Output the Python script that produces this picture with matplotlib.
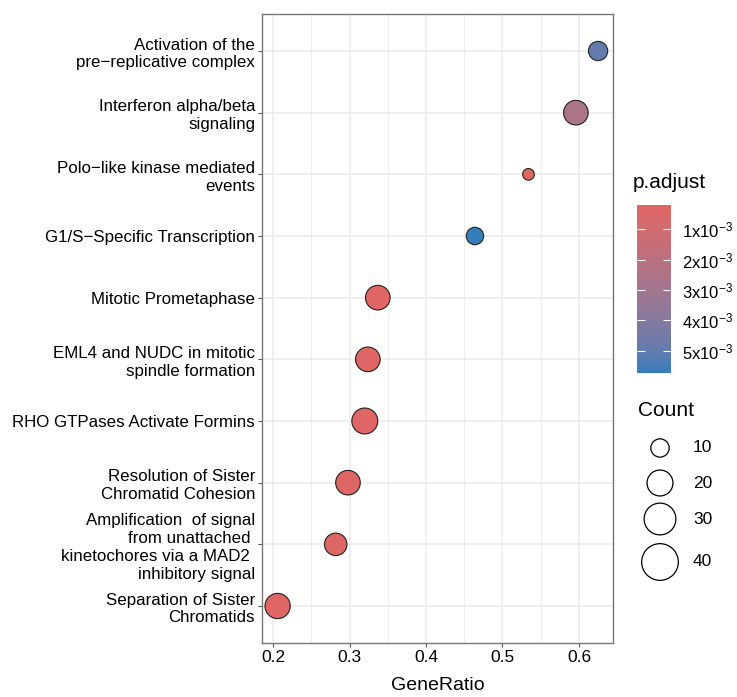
"""
Dot plot of enriched Reactome terms: GeneRatio vs term, coloured by p.adjust,
sized by gene count (clusterProfiler style).
"""
import numpy as np
import matplotlib
matplotlib.use("Agg")
import matplotlib.pyplot as plt
from matplotlib.colors import ListedColormap, Normalize, to_rgb
from matplotlib.cm import ScalarMappable

plt.rcParams["font.family"] = ["Liberation Sans", "DejaVu Sans"]
plt.rcParams["mathtext.fontset"] = "custom"
plt.rcParams["mathtext.rm"] = "Liberation Sans"

# terms from top to bottom
terms = [
    "Activation of the\npre\u2212replicative complex",
    "Interferon alpha/beta\nsignaling",
    "Polo\u2212like kinase mediated\nevents",
    "G1/S\u2212Specific Transcription",
    "Mitotic Prometaphase",
    "EML4 and NUDC in mitotic\nspindle formation",
    "RHO GTPases Activate Formins",
    "Resolution of Sister\nChromatid Cohesion",
    "Amplification  of signal\nfrom unattached \nkinetochores via a MAD2 \ninhibitory signal",
    "Separation of Sister\nChromatids",
]
gene_ratio = [0.625, 0.596, 0.534, 0.464, 0.337, 0.324, 0.320, 0.298, 0.282, 0.206]
p_adjust = [4.9e-3, 2.6e-3, 0.3e-3, 5.7e-3, 0.25e-3, 0.25e-3, 0.25e-3, 0.3e-3, 0.3e-3, 0.25e-3]
counts = [11, 18, 4, 9, 18, 18, 20, 18, 15, 19]

pad_ticks = [1e-3, 2e-3, 3e-3, 4e-3, 5e-3]
pad_labels = [r"$\mathregular{%dx10^{-3}}$" % k for k in range(1, 6)]
pad_range = (0.2e-3, 5.73e-3)
count_keys = [10, 20, 30, 40]

low_col, high_col = "#e06663", "#327eba"


# ---- CIELAB gradient, like scales::seq_gradient_pal ----
def _to_lab(rgb):
    c = np.array(rgb)
    c = np.where(c > 0.04045, ((c + 0.055) / 1.055) ** 2.4, c / 12.92)
    m = np.array([[0.4124, 0.3576, 0.1805],
                  [0.2126, 0.7152, 0.0722],
                  [0.0193, 0.1192, 0.9505]])
    xyz = m @ c / np.array([0.95047, 1.0, 1.08883])
    f = np.where(xyz > 0.008856, np.cbrt(xyz), 7.787 * xyz + 16 / 116)
    return np.array([116 * f[1] - 16, 500 * (f[0] - f[1]), 200 * (f[1] - f[2])])


def _from_lab(lab):
    fy = (lab[0] + 16) / 116
    f = np.array([fy + lab[1] / 500, fy, fy - lab[2] / 200])
    xyz = np.where(f > 0.2069, f ** 3, (f - 16 / 116) / 7.787)
    xyz = xyz * np.array([0.95047, 1.0, 1.08883])
    m = np.array([[3.2406, -1.5372, -0.4986],
                  [-0.9689, 1.8758, 0.0415],
                  [0.0557, -0.2040, 1.0570]])
    c = m @ xyz
    c = np.where(c > 0.0031308, 1.055 * np.clip(c, 0, None) ** (1 / 2.4) - 0.055, 12.92 * c)
    return np.clip(c, 0, 1)


lab_lo, lab_hi = _to_lab(to_rgb(low_col)), _to_lab(to_rgb(high_col))
cmap = ListedColormap([_from_lab(lab_lo + t * (lab_hi - lab_lo)) for t in np.linspace(0, 1, 256)])
norm = Normalize(*pad_range)


def size_of(n):
    # marker area ~ count
    d_px = 5.8 * np.sqrt(n)
    return (d_px * 0.72) ** 2


W, H = 737, 697
fig = plt.figure(figsize=(W / 100, H / 100), dpi=100)

# ---- main panel ----
ax = fig.add_axes([262 / W, 1 - 643 / H, (613 - 262) / W, (643 - 14) / H])
ypos = np.arange(len(terms))[::-1]
ax.scatter(gene_ratio, ypos, s=[size_of(c) for c in counts], c=p_adjust,
           cmap=cmap, norm=norm, edgecolors="#222222", linewidths=0.8, zorder=3)

ax.set_xlim(0.1856, 0.6445)
ax.set_ylim(-0.6, len(terms) - 0.4)
ax.set_xticks([0.2, 0.3, 0.4, 0.5, 0.6])
ax.set_xticklabels(["0.2", "0.3", "0.4", "0.5", "0.6"])
ax.set_xticks([0.25, 0.35, 0.45, 0.55], minor=True)
ax.set_yticks(ypos)
ax.set_yticklabels(terms, linespacing=1.25)
ax.grid(which="major", color="#EBEBEB", linewidth=1.1)
ax.grid(which="minor", axis="x", color="#EFEFEF", linewidth=0.8)
ax.set_axisbelow(True)
ax.tick_params(axis="both", which="major", length=3, width=0.8, color="#555555", pad=2)
ax.tick_params(axis="y", labelsize=12.2)
ax.tick_params(axis="x", labelsize=12.5)
ax.tick_params(which="minor", length=0)
for sp in ax.spines.values():
    sp.set_color("#777777")
    sp.set_linewidth(1.0)
ax.set_xlabel("GeneRatio", fontsize=14, labelpad=9)

# ---- p.adjust colourbar ----
cax = fig.add_axes([637 / W, 1 - 373 / H, 34 / W, 168 / H])
sm = ScalarMappable(norm=norm, cmap=cmap)
cb = fig.colorbar(sm, cax=cax, ticks=pad_ticks)
cb.set_ticklabels(pad_labels)
cb.outline.set_visible(False)
cax.invert_yaxis()
cax.tick_params(axis="y", direction="in", length=6, width=0.8, color="white",
                left=True, right=True, labelsize=12, pad=8)
fig.text(633 / W, 1 - 183 / H, "p.adjust", fontsize=15, va="center", ha="left")

# ---- Count legend ----
lax = fig.add_axes([620 / W, 1 - 590 / H, 117 / W, 160 / H])
lax.set_xlim(620, 737)
lax.set_ylim(590, 430)
lax.axis("off")
key_y = [448, 483, 519, 562]
lax.scatter([660] * len(count_keys), key_y, s=[size_of(c) for c in count_keys],
            facecolors="white", edgecolors="black", linewidths=0.9)
for k, yk in zip(count_keys, key_y):
    lax.text(693, yk, str(k), fontsize=12.5, va="center", ha="left")
fig.text(638 / W, 1 - 410 / H, "Count", fontsize=15, va="center", ha="left")

fig.savefig("out.png", dpi=100)
